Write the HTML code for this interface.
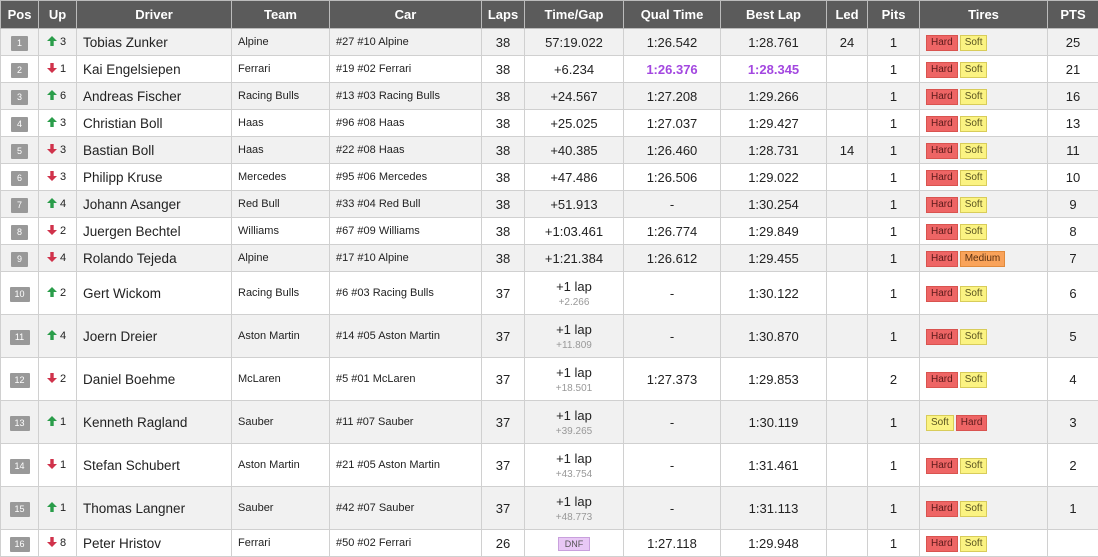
<!DOCTYPE html>
<html><head><meta charset="utf-8"><style>
body{margin:0;background:#fff;font-family:"Liberation Sans","DejaVu Sans",sans-serif;}
table{border-collapse:collapse;table-layout:fixed;width:1098px;position:absolute;left:0;top:0;}
td,th{border:1px solid #d0d0d0;padding:0;color:#222;white-space:nowrap;overflow:hidden;vertical-align:middle;}
th{background:#5b5b5b;color:#fff;height:27px;font-size:13px;font-weight:bold;text-align:center;border-color:#bbb;}
tr.r td{height:26px;}
tr.t td{height:42px;}
tr:nth-child(even) td{background:#f1f1f1;}
tr:nth-child(odd) td{background:#fff;}
td{font-size:13px;text-align:center;}
.pos{display:inline-block;background:#999;color:#fff;font-size:9px;width:17px;height:15px;line-height:15px;border-radius:1px;}
.pos.w{width:20px;}
.up{font-size:11px;text-align:left;padding-left:8px;}
.up svg{vertical-align:-1px;margin-right:3px;}
.drv{text-align:left;padding-left:6px;font-size:13.5px;}
.tm,.car{text-align:left;padding-left:6px;font-size:11px;}
.pur{color:#a347e0;font-weight:bold;}
.tire{display:inline-block;font-size:10px;padding:0 4px;height:14px;line-height:14px;border:1px solid;margin-right:2px;}
.H{background:#ee6565;border-color:#d9534f;color:#5a1a1a;}
.S{background:#fbf382;border-color:#d8cc5a;color:#5a5420;}
.M{background:#f9a35a;border-color:#e08a3c;color:#5a3010;}
.tires{text-align:left;padding-left:6px;}
.sub{font-size:10px;color:#999;display:block;margin-top:3px;}
.dnf{display:inline-block;background:#e8c8f5;border:1px solid #c9a0dd;font-size:9px;padding:1px 6px;color:#555;}
</style></head><body>
<svg width="0" height="0" style="position:absolute"><defs>
<symbol id="u" viewBox="0 0 10 10"><path d="M5 0L10 5H6.7V10H3.3V5H0Z" fill="#2a9d4a"/></symbol>
<symbol id="dn" viewBox="0 0 10 10"><path d="M5 10L10 5H6.7V0H3.3V5H0Z" fill="#d0324b"/></symbol>
</defs></svg>
<table>
<colgroup><col style="width:38px"><col style="width:38px"><col style="width:155px"><col style="width:98px"><col style="width:152px"><col style="width:43px"><col style="width:99px"><col style="width:97px"><col style="width:106px"><col style="width:41px"><col style="width:52px"><col style="width:128px"><col style="width:51px"></colgroup>
<tr><th>Pos</th><th>Up</th><th>Driver</th><th>Team</th><th>Car</th><th>Laps</th><th>Time/Gap</th><th>Qual Time</th><th>Best Lap</th><th>Led</th><th>Pits</th><th>Tires</th><th>PTS</th></tr>
<tr class="r"><td><span class="pos">1</span></td><td class="up"><svg width="10" height="10"><use href="#u"/></svg>3</td><td class="drv">Tobias Zunker</td><td class="tm">Alpine</td><td class="car">#27 #10 Alpine</td><td>38</td><td>57:19.022</td><td>1:26.542</td><td>1:28.761</td><td>24</td><td>1</td><td class="tires"><span class="tire H">Hard</span><span class="tire S">Soft</span></td><td>25</td></tr>
<tr class="r"><td><span class="pos">2</span></td><td class="up"><svg width="10" height="10"><use href="#dn"/></svg>1</td><td class="drv">Kai Engelsiepen</td><td class="tm">Ferrari</td><td class="car">#19 #02 Ferrari</td><td>38</td><td>+6.234</td><td class="pur">1:26.376</td><td class="pur">1:28.345</td><td></td><td>1</td><td class="tires"><span class="tire H">Hard</span><span class="tire S">Soft</span></td><td>21</td></tr>
<tr class="r"><td><span class="pos">3</span></td><td class="up"><svg width="10" height="10"><use href="#u"/></svg>6</td><td class="drv">Andreas Fischer</td><td class="tm">Racing Bulls</td><td class="car">#13 #03 Racing Bulls</td><td>38</td><td>+24.567</td><td>1:27.208</td><td>1:29.266</td><td></td><td>1</td><td class="tires"><span class="tire H">Hard</span><span class="tire S">Soft</span></td><td>16</td></tr>
<tr class="r"><td><span class="pos">4</span></td><td class="up"><svg width="10" height="10"><use href="#u"/></svg>3</td><td class="drv">Christian Boll</td><td class="tm">Haas</td><td class="car">#96 #08 Haas</td><td>38</td><td>+25.025</td><td>1:27.037</td><td>1:29.427</td><td></td><td>1</td><td class="tires"><span class="tire H">Hard</span><span class="tire S">Soft</span></td><td>13</td></tr>
<tr class="r"><td><span class="pos">5</span></td><td class="up"><svg width="10" height="10"><use href="#dn"/></svg>3</td><td class="drv">Bastian Boll</td><td class="tm">Haas</td><td class="car">#22 #08 Haas</td><td>38</td><td>+40.385</td><td>1:26.460</td><td>1:28.731</td><td>14</td><td>1</td><td class="tires"><span class="tire H">Hard</span><span class="tire S">Soft</span></td><td>11</td></tr>
<tr class="r"><td><span class="pos">6</span></td><td class="up"><svg width="10" height="10"><use href="#dn"/></svg>3</td><td class="drv">Philipp Kruse</td><td class="tm">Mercedes</td><td class="car">#95 #06 Mercedes</td><td>38</td><td>+47.486</td><td>1:26.506</td><td>1:29.022</td><td></td><td>1</td><td class="tires"><span class="tire H">Hard</span><span class="tire S">Soft</span></td><td>10</td></tr>
<tr class="r"><td><span class="pos">7</span></td><td class="up"><svg width="10" height="10"><use href="#u"/></svg>4</td><td class="drv">Johann Asanger</td><td class="tm">Red Bull</td><td class="car">#33 #04 Red Bull</td><td>38</td><td>+51.913</td><td>-</td><td>1:30.254</td><td></td><td>1</td><td class="tires"><span class="tire H">Hard</span><span class="tire S">Soft</span></td><td>9</td></tr>
<tr class="r"><td><span class="pos">8</span></td><td class="up"><svg width="10" height="10"><use href="#dn"/></svg>2</td><td class="drv">Juergen Bechtel</td><td class="tm">Williams</td><td class="car">#67 #09 Williams</td><td>38</td><td>+1:03.461</td><td>1:26.774</td><td>1:29.849</td><td></td><td>1</td><td class="tires"><span class="tire H">Hard</span><span class="tire S">Soft</span></td><td>8</td></tr>
<tr class="r"><td><span class="pos">9</span></td><td class="up"><svg width="10" height="10"><use href="#dn"/></svg>4</td><td class="drv">Rolando Tejeda</td><td class="tm">Alpine</td><td class="car">#17 #10 Alpine</td><td>38</td><td>+1:21.384</td><td>1:26.612</td><td>1:29.455</td><td></td><td>1</td><td class="tires"><span class="tire H">Hard</span><span class="tire M">Medium</span></td><td>7</td></tr>
<tr class="t"><td><span class="pos w">10</span></td><td class="up"><svg width="10" height="10"><use href="#u"/></svg>2</td><td class="drv">Gert Wickom</td><td class="tm">Racing Bulls</td><td class="car">#6 #03 Racing Bulls</td><td>37</td><td>+1 lap<span class="sub">+2.266</span></td><td>-</td><td>1:30.122</td><td></td><td>1</td><td class="tires"><span class="tire H">Hard</span><span class="tire S">Soft</span></td><td>6</td></tr>
<tr class="t"><td><span class="pos w">11</span></td><td class="up"><svg width="10" height="10"><use href="#u"/></svg>4</td><td class="drv">Joern Dreier</td><td class="tm">Aston Martin</td><td class="car">#14 #05 Aston Martin</td><td>37</td><td>+1 lap<span class="sub">+11.809</span></td><td>-</td><td>1:30.870</td><td></td><td>1</td><td class="tires"><span class="tire H">Hard</span><span class="tire S">Soft</span></td><td>5</td></tr>
<tr class="t"><td><span class="pos w">12</span></td><td class="up"><svg width="10" height="10"><use href="#dn"/></svg>2</td><td class="drv">Daniel Boehme</td><td class="tm">McLaren</td><td class="car">#5 #01 McLaren</td><td>37</td><td>+1 lap<span class="sub">+18.501</span></td><td>1:27.373</td><td>1:29.853</td><td></td><td>2</td><td class="tires"><span class="tire H">Hard</span><span class="tire S">Soft</span></td><td>4</td></tr>
<tr class="t"><td><span class="pos w">13</span></td><td class="up"><svg width="10" height="10"><use href="#u"/></svg>1</td><td class="drv">Kenneth Ragland</td><td class="tm">Sauber</td><td class="car">#11 #07 Sauber</td><td>37</td><td>+1 lap<span class="sub">+39.265</span></td><td>-</td><td>1:30.119</td><td></td><td>1</td><td class="tires"><span class="tire S">Soft</span><span class="tire H">Hard</span></td><td>3</td></tr>
<tr class="t"><td><span class="pos w">14</span></td><td class="up"><svg width="10" height="10"><use href="#dn"/></svg>1</td><td class="drv">Stefan Schubert</td><td class="tm">Aston Martin</td><td class="car">#21 #05 Aston Martin</td><td>37</td><td>+1 lap<span class="sub">+43.754</span></td><td>-</td><td>1:31.461</td><td></td><td>1</td><td class="tires"><span class="tire H">Hard</span><span class="tire S">Soft</span></td><td>2</td></tr>
<tr class="t"><td><span class="pos w">15</span></td><td class="up"><svg width="10" height="10"><use href="#u"/></svg>1</td><td class="drv">Thomas Langner</td><td class="tm">Sauber</td><td class="car">#42 #07 Sauber</td><td>37</td><td>+1 lap<span class="sub">+48.773</span></td><td>-</td><td>1:31.113</td><td></td><td>1</td><td class="tires"><span class="tire H">Hard</span><span class="tire S">Soft</span></td><td>1</td></tr>
<tr class="r"><td><span class="pos w">16</span></td><td class="up"><svg width="10" height="10"><use href="#dn"/></svg>8</td><td class="drv">Peter Hristov</td><td class="tm">Ferrari</td><td class="car">#50 #02 Ferrari</td><td>26</td><td><span class="dnf">DNF</span></td><td>1:27.118</td><td>1:29.948</td><td></td><td>1</td><td class="tires"><span class="tire H">Hard</span><span class="tire S">Soft</span></td><td></td></tr>
</table>
</body></html>
